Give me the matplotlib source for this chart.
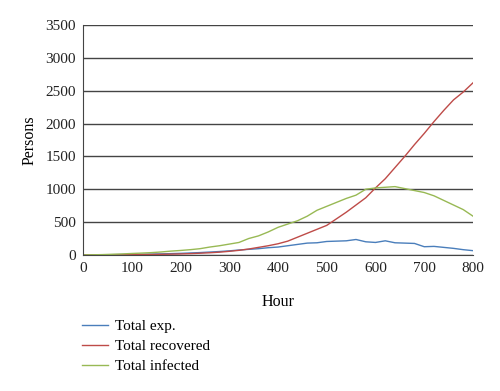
import matplotlib.pyplot as plt

hours = list(range(0, 801, 20))

total_exp = [0, 1, 2, 4, 6, 8, 10, 13, 16, 20, 24, 30, 36, 44, 52, 62, 75, 85, 95, 110,
             120, 140, 160, 180, 185, 205, 210, 215, 235, 200, 190, 215, 185, 180, 175,
             125, 130, 115, 100, 80, 65]
total_recovered = [0, 0, 1, 2, 3, 4, 5, 7, 9, 12, 15, 20, 26, 33, 42, 55, 70, 90, 115, 140,
                   170, 210, 270, 330, 390, 450, 550, 650, 760, 870, 1020, 1160, 1330, 1500,
                   1680, 1850, 2030, 2200, 2360, 2480, 2620]
total_infected = [0, 2, 5, 10, 15, 22, 28, 35, 45, 58, 68, 80, 95, 120, 140, 165, 190, 250,
                  290, 350, 420, 470, 520, 590, 680, 740, 800, 860, 910, 1000, 1020, 1030,
                  1040, 1010, 980, 950, 900, 830, 760, 690, 590]

plt.rcParams["font.family"] = ["Liberation Serif", "DejaVu Serif"]

fig = plt.figure(figsize=(5, 3.91), dpi=100)
ax = fig.add_axes([0.166, 0.348, 0.78, 0.588])

ax.plot(hours, total_exp, color="#4a7ebb", lw=1, label="Total exp.")
ax.plot(hours, total_recovered, color="#be4b48", lw=1, label="Total recovered")
ax.plot(hours, total_infected, color="#98b954", lw=1, label="Total infected")

ax.set_xlim(0, 800)
ax.set_ylim(0, 3500)
ax.set_xticks(range(0, 801, 100))
ax.set_yticks(range(0, 3501, 500))
ax.yaxis.grid(True, color="#444444", lw=1)
ax.set_axisbelow(True)
for s in ["top", "right"]:
    ax.spines[s].set_visible(False)
ax.spines["left"].set_color("#444444")
ax.spines["bottom"].set_color("#444444")
ax.tick_params(length=0, labelsize=11, pad=5, colors="#222222")

ax.set_xlabel("Hour", fontsize=11.5, labelpad=14)
ax.set_ylabel("Persons", fontsize=11.5, labelpad=6)

fig.legend(loc="upper left", bbox_to_anchor=(0.158, 0.19), frameon=False,
           fontsize=11, handlelength=1.7, labelspacing=0.4, handletextpad=0.45,
           borderaxespad=0, borderpad=0.2)

fig.savefig("out.png")
plt.close(fig)
